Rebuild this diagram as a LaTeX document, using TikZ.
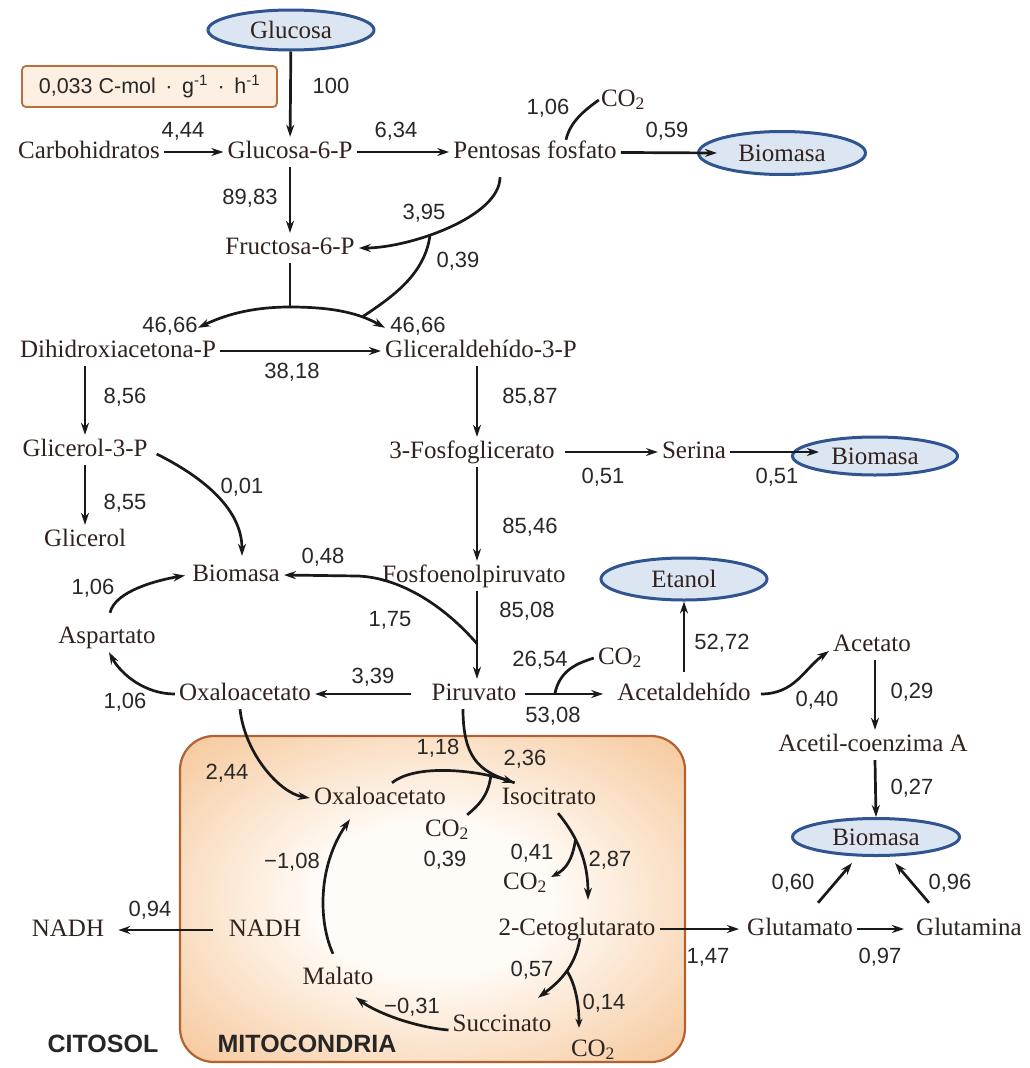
\documentclass[tikz,border=0pt]{standalone}
\usepackage{fontspec}
\setmainfont{Liberation Serif}
\newfontfamily\numfont{Liberation Sans}
\usetikzlibrary{shapes.geometric,arrows.meta}
\definecolor{txtc}{RGB}{50,34,30}
\definecolor{numc}{RGB}{40,40,40}
\definecolor{arrc}{RGB}{25,25,25}
\definecolor{biofill}{RGB}{220,230,242}
\definecolor{bioline}{RGB}{47,84,143}
\definecolor{boxfill}{RGB}{253,240,226}
\definecolor{boxline}{RGB}{185,110,60}
\definecolor{mitoin}{RGB}{255,251,246}
\definecolor{mitoout}{RGB}{242,180,120}
\definecolor{mitoline}{RGB}{176,98,50}
\pgfdeclareradialshading{mitoshade}{\pgfpoint{0bp}{0bp}}{color(0bp)=(mitoin); color(12bp)=(mitoin); color(44bp)=(mitoout); color(50bp)=(mitoout)}
\tikzset{
  nm/.style={font=\fontsize{25}{28}\selectfont, text=txtc, inner sep=4pt, text height=17pt, text depth=5pt},
  nb/.style={font=\numfont\fontsize{22}{26}\selectfont, text=numc, inner sep=0pt},
  bio/.style={ellipse, draw=bioline, line width=3pt, fill=biofill, inner sep=0pt, font=\fontsize{25}{28}\selectfont, text=txtc},
  ar/.style={draw=arrc, line width=2.7pt, -{Stealth[length=12pt,width=8pt]}},
  ars/.style={draw=arrc, line width=2.7pt, -{Stealth[length=9pt,width=7pt]}},
  ln/.style={draw=arrc, line width=2.7pt},
  lbl/.style={font=\numfont\bfseries\fontsize{25}{28}\selectfont, text=black!85},
}
\begin{document}
\begin{tikzpicture}[x=1pt,y=-1pt]
\fill[white] (0,0) rectangle (1029,1068);
\useasboundingbox (0,0) rectangle (1029,1068);
% mitochondria
\node[shade, shading=mitoshade, draw=mitoline, line width=2.2pt, rounded corners=34pt, minimum width=505pt, minimum height=326pt, inner sep=0pt] (mitobox) at (432.5,899) {};
% columns
\coordinate (colx) at (477,0);
\coordinate (colr) at (875,0);
% names
\node[bio, minimum width=166pt, minimum height=40pt] (glc) at (291,30) {Glucosa};
\node[draw=boxline, fill=boxfill, line width=1.8pt, rounded corners=4pt, minimum width=255pt, minimum height=41pt, font=\numfont\fontsize{21.5}{24}\selectfont, text=numc] (rate) at (149.5,86.5) {0,033 C-mol \,·\, g\textsuperscript{-1} \,·\, h\textsuperscript{-1}};
\node[nm] (carbo) at (89,152) {Carbohidratos};
\node[nm] (g6p) at (290,152) {Glucosa-6-P};
\node[nm] (pent) at (535,152) {Pentosas fosfato};
\node[nm] (co2a) at (623,100) {CO\textsubscript{2}};
\node[bio, minimum width=167pt, minimum height=43pt] (bio1) at (782,153) {Biomasa};
\node[nm] (f6p) at (290,248) {Fructosa-6-P};
\node[nm] (dhap) at (118,351) {Dihidroxiacetona-P};
\node[nm] (gap) at (481,351) {Gliceraldehído-3-P};
\node[nm] (g3p) at (85,450) {Glicerol-3-P};
\node[nm] (glol) at (85,540) {Glicerol};
\node[nm] (fg3) at (472,452) {3-Fosfoglicerato};
\node[nm] (ser) at (694,452) {Serina};
\node[bio, minimum width=165pt, minimum height=38pt] (bio2) at (875,456) {Biomasa};
\node[nm] (bioc) at (236,575) {Biomasa};
\node[nm] (pep) at (474,576) {Fosfoenolpiruvato};
\node[nm] (asp) at (107,637) {Aspartato};
\node[nm] (oaa) at (245,694) {Oxaloacetato};
\node[nm] (pir) at (474,694) {Piruvato};
\node[nm] (acald) at (684,694) {Acetaldehído};
\node[nm] (co2b) at (620,658) {CO\textsubscript{2}};
\node[bio, minimum width=166pt, minimum height=42pt] (etoh) at (684,579) {Etanol};
\node[nm] (acet) at (872,645) {Acetato};
\node[nm] (acoa) at (873,745) {Acetil-coenzima A};
\node[bio, minimum width=167pt, minimum height=37pt] (bio3) at (876,837) {Biomasa};
\node[nm] (glu) at (800,929) {Glutamato};
\node[nm] (gln) at (969,929) {Glutamina};
\node[nm] (akg) at (577,929) {2-Cetoglutarato};
\node[nm] (oaam) at (380,798) {Oxaloacetato};
\node[nm] (iso) at (549,798) {Isocitrato};
\node[nm] (co2c) at (447,830) {CO\textsubscript{2}};
\node[nm] (co2d) at (525,883) {CO\textsubscript{2}};
\node[nm] (co2e) at (593,1050) {CO\textsubscript{2}};
\node[nm] (succ) at (502,1025) {Succinato};
\node[nm] (mal) at (338,978) {Malato};
\node[nm] (nadhm) at (265,930) {NADH};
\node[nm] (nadhc) at (68,930) {NADH};
\node[lbl] (cit) at (103,1044) {CITOSOL};
\node[lbl] (mit) at (307,1044) {MITOCONDRIA};
% numbers
\node[nb] (n100) at (331,86) {100};
\node[nb] (n444) at (183,131) {4,44};
\node[nb] (n634) at (396,131) {6,34};
\node[nb] (n106a) at (548,108) {1,06};
\node[nb] (n059) at (667,131) {0,59};
\node[nb] (n8983) at (250,198) {89,83};
\node[nb] (n395) at (424,213) {3,95};
\node[nb] (n039a) at (458,261) {0,39};
\node[nb] (n4666a) at (170,326) {46,66};
\node[nb] (n4666b) at (418,326) {46,66};
\node[nb] (n3818) at (292,372) {38,18};
\node[nb] (n856) at (125,397) {8,56};
\node[nb] (n855) at (125,503) {8,55};
\node[nb] (n001) at (242,487) {0,01};
\node[nb] (n048) at (323,557) {0,48};
\node[nb] (n106b) at (93,588) {1,06};
\node[nb] (n175) at (390,620) {1,75};
\node[nb] (n339) at (373,677) {3,39};
\node[nb] (n106c) at (125,702) {1,06};
\node[nb] (n8587) at (530,397) {85,87};
\node[nb] (n051a) at (603,477) {0,51};
\node[nb] (n051b) at (777,477) {0,51};
\node[nb] (n8546) at (530,527) {85,46};
\node[nb] (n8508) at (527,611) {85,08};
\node[nb] (n5272) at (722,643) {52,72};
\node[nb] (n2654) at (540,660) {26,54};
\node[nb] (n5308) at (553,716) {53,08};
\node[nb] (n040) at (817,700) {0,40};
\node[nb] (n029) at (912,692) {0,29};
\node[nb] (n027) at (912,788) {0,27};
\node[nb] (n060) at (793,883) {0,60};
\node[nb] (n096) at (950,883) {0,96};
\node[nb] (n147) at (708,957) {1,47};
\node[nb] (n097) at (880,957) {0,97};
\node[nb] (n236) at (525,759) {2,36};
\node[nb] (n118) at (438,748) {1,18};
\node[nb] (n244) at (227,773) {2,44};
\node[nb] (n039b) at (445,860) {0,39};
\node[nb] (n041) at (532,853) {0,41};
\node[nb] (n287) at (610,860) {2,87};
\node[nb] (n057) at (532,970) {0,57};
\node[nb] (n014) at (604,1003) {0,14};
\node[nb] (n031) at (412,1007) {−0,31};
\node[nb] (n108) at (292,862) {−1,08};
\node[nb] (n094) at (150,910) {0,94};
% connectors: top
\draw[ar] (glc) -- (g6p);
\draw[ar] (carbo) -- (g6p);
\draw[ar] (g6p) -- (pent);
\draw[ln] ([xshift=31pt,yshift=-3pt]pent.north) .. controls +(4,-18) and +(-14,10) .. ([xshift=2pt]co2a.west);
\draw[ar] (pent) -- ([xshift=20pt]bio1.west);
\draw[ar] (g6p) -- (f6p);
\draw[ar] ([xshift=-35pt,yshift=-10pt]pent.south) .. controls +(0,40) and +(50,0) .. (f6p.east) coordinate[pos=0.6] (j1);
\coordinate (top) at (290,307);
\coordinate (dhtip) at ([xshift=-22pt,yshift=8pt]dhap.north east);
\coordinate (gatip) at ([xshift=4pt,yshift=8pt]gap.north west);
\draw[ln] (f6p.south) -- (top);
\draw[ar] (top) .. controls +(-40,0) and +(25,-12) .. (dhtip);
\draw[ar] (top) .. controls +(45,0) and +(-25,-14) .. (gatip) coordinate[pos=0.7] (j2);
\draw[ln] (j1) .. controls +(-5,40) and +(30,-20) .. (j2);
\draw[ar] (dhap) -- (gap);
\draw[ar] (g3p.north |- dhap.south) -- (g3p.north);
\draw[ar] (g3p) -- (glol);
\draw[ar] ([xshift=5pt,yshift=-4pt]g3p.east) .. controls +(40,20) and +(0,-50) .. ([xshift=6pt,yshift=4pt]bioc.north);
% central column
\draw[ar] (gap.south -| colx) -- (fg3.north -| colx);
\draw[ar, shorten <=6pt] (fg3) -- (ser);
\draw[ar] (ser.east) -- ([xshift=28pt,yshift=4pt]bio2.west);
\draw[ar] (fg3.south -| colx) -- (pep.north -| colx);
\draw[ar] ([xshift=-20pt]pep.west) coordinate (j3) -- (bioc.east);
\draw[ar] (pep.south -| colx) -- (pir.north -| colx) coordinate[pos=0.6] (j4);
\draw[ln] (j4) .. controls +(-30,-35) and +(45,2) .. (j3);
\draw[ar] ([xshift=-16pt]pir.west) -- (oaa.east);
\draw[ar] (oaa.west) .. controls +(-30,0) and +(12,22) .. ([xshift=2pt]asp.south);
\draw[ar, shorten >=3pt] ([xshift=3pt,yshift=9pt]asp.north) .. controls +(5,-22) and +(-30,5) .. (bioc.west);
\draw[ar, shorten <=4pt, shorten >=10pt] (pir) -- (acald) coordinate[pos=0.37] (j5);
\draw[ln] (j5) .. controls +(5,-25) and +(-15,5) .. (co2b.west);
\draw[ar, shorten <=7pt] (acald) -- (etoh);
\draw[ar, shorten <=6pt] (acald.east) .. controls +(40,0) and +(-25,18) .. ([yshift=-6pt]acet.west);
\draw[ar] (acet.south -| colr) -- (acoa.north -| colr);
\draw[ar] (acoa.south -| colr) -- (bio3.north);
\draw[ar] ([xshift=18pt,yshift=11pt]glu.north) -- ([xshift=-24pt,yshift=-6pt]bio3.south);
\draw[ar] ([xshift=-40pt,yshift=11pt]gln.north) -- ([xshift=19pt,yshift=-6pt]bio3.south);
\draw[ar, shorten >=8pt] (glu) -- (gln);
\draw[ar, shorten >=4pt] (akg) -- (glu);
% mitochondria
\coordinate (isotip) at ([xshift=17pt]iso.north west);
\draw[ar] ([xshift=-5pt]oaa.south) .. controls +(5,45) and +(-30,-5) .. (oaam.west);
\draw[ln] ([xshift=-11pt]pir.south) .. controls +(0,55) and +(-30,-10) .. (isotip);
\draw[ar] ([xshift=12pt]oaam.north) .. controls +(25,-20) and +(-35,-12) .. (isotip) coordinate[pos=0.8] (j6);
\draw[ln] (j6) .. controls +(-3,20) and +(12,-10) .. ([xshift=-6pt]co2c.north east);
\draw[ar] ([xshift=9pt]iso.south) .. controls +(25,30) and +(0,-30) .. ([xshift=11pt,yshift=14pt]akg.north) coordinate[pos=0.3] (j7);
\draw[ars] (j7) .. controls +(-3,20) and +(15,-8) .. ([yshift=6pt]co2d.east);
\draw[ar] ([xshift=3pt,yshift=6pt]akg.south) .. controls +(-5,30) and +(20,-15) .. ([xshift=36pt,yshift=12pt]succ.north) coordinate[pos=0.45] (j8);
\draw[ars] (j8) .. controls +(8,12) and +(0,-25) .. ([xshift=-14pt,yshift=7pt]co2e.north);
\draw[ar] ([yshift=-5pt]succ.west) .. controls +(-35,-3) and +(20,15) .. ([xshift=-22pt,yshift=-4pt]mal.south east);
\draw[ar] ([xshift=-5pt,yshift=9pt]mal.north) .. controls +(-15,-33) and +(-32,46) .. ([xshift=-30pt,yshift=-6pt]oaam.south);
\draw[ar, shorten <=12pt, shorten >=10pt] (nadhm) -- (nadhc);
\end{tikzpicture}
\end{document}
